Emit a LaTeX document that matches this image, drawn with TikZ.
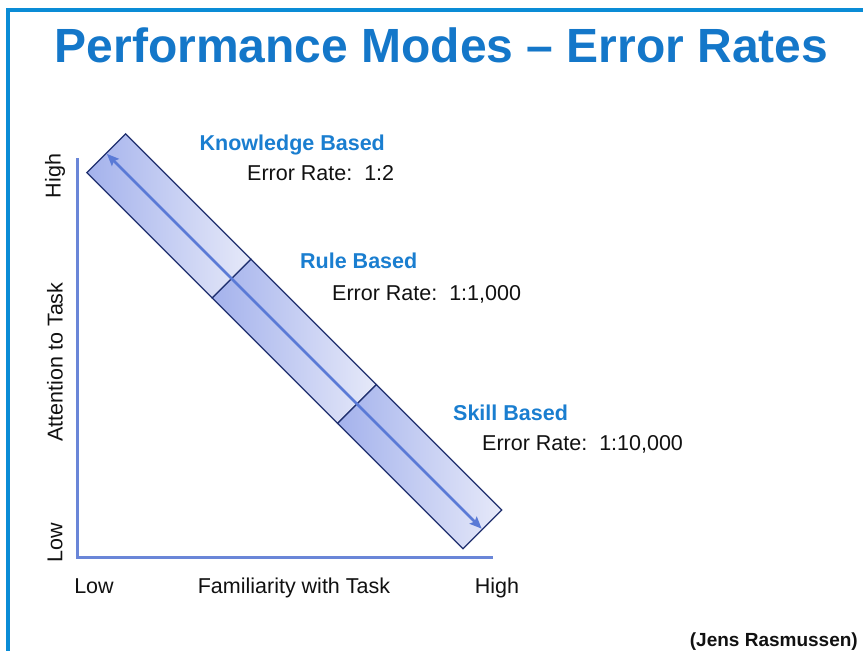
\documentclass[tikz,border=0pt]{standalone}
\usepackage{fontspec}
\setmainfont{Liberation Sans}
\usetikzlibrary{arrows.meta}
\definecolor{framecol}{HTML}{0A8CD6}
\definecolor{titlecol}{HTML}{1477C9}
\definecolor{headcol}{HTML}{1A7ED0}
\definecolor{axiscol}{HTML}{6A86D8}
\definecolor{banddark}{HTML}{A4B2EC}
\definecolor{bandlight}{HTML}{E6E9F9}
\definecolor{bandedge}{HTML}{1F2F6E}
\definecolor{arrowcol}{HTML}{5A7AD6}
\definecolor{txt}{HTML}{111111}
\begin{document}
\begin{tikzpicture}[x=1pt,y=-1pt,
  lbl/.style={font=\fontsize{21.5}{24}\selectfont, text=txt, inner sep=0pt},
  head/.style={font=\fontsize{21.5}{24}\selectfont\bfseries, text=headcol, inner sep=0pt, anchor=base west},
  rate/.style={lbl, anchor=base west},
  seg/.style={draw=bandedge, line width=1.3pt, rotate=-45, minimum width=177.3pt, minimum height=54.7pt, inner sep=0pt, outer sep=0pt, left color=banddark, right color=bandlight},
  axis/.style={draw=axiscol, line width=3pt}]
\useasboundingbox (0,0) rectangle (863,651);
\fill[white] (0,0) rectangle (863,651);
% frame
\draw[framecol, line width=4.2pt] (8,651) -- (8,10) -- (863,10);
% title
\node[anchor=base, inner sep=0pt, text=titlecol, font=\fontsize{48}{50}\selectfont\bfseries] (title) at (441.5,62.5) {Performance Modes -- Error Rates};
% axes
\coordinate (ytop) at (77,158);
\coordinate (origin) at (77,557);
\coordinate (xend) at (493,557);
\draw[axis] (ytop) -- (origin) -- (xend);
% band
\node[seg] (seg1) at (168.9,215.9) {};
\node[seg] (seg2) at (294.3,341.3) {};
\node[seg] (seg3) at (419.7,466.7) {};
\draw[arrowcol, line width=2.6pt, {Stealth[length=12pt,width=10pt,inset=2pt]}-{Stealth[length=12pt,width=10pt,inset=2pt]}, shorten <=1pt, shorten >=1pt] (seg1.west) -- (seg3.east);
% labels
\node[head] (kb) at (199.5,150) {Knowledge Based};
\node[rate] (kr) at (247,180) {Error Rate:\ \ 1:2};
\node[head] (rb) at (300,268) {Rule Based};
\node[rate] (rr) at (332,300) {Error Rate:\ \ 1:1,000};
\node[head] (sb) at (453,420) {Skill Based};
\node[rate] (sr) at (482,450) {Error Rate:\ \ 1:10,000};
% axis labels
\node[lbl, rotate=90] (yhigh) at (55,176) {High};
\node[lbl, rotate=90] (ytitle) at (55,362) {Attention to Task};
\node[lbl, rotate=90] (ylow) at (55,543) {Low};
\node[lbl, anchor=base] (xlow) at (94,593) {Low};
\node[lbl, anchor=base] (xtitle) at (294,593) {Familiarity with Task};
\node[lbl, anchor=base] (xhigh) at (497,593) {High};
% source
\node[anchor=base east, inner sep=0pt, font=\fontsize{19}{21}\selectfont\bfseries, text=txt] (src) at (858,646) {(Jens Rasmussen)};
\end{tikzpicture}
\end{document}
